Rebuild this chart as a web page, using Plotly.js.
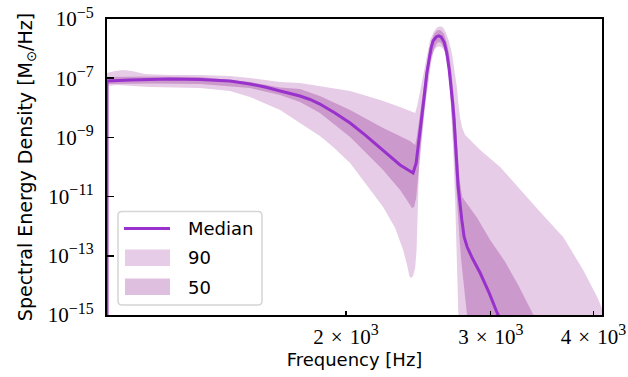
<!DOCTYPE html>
<html>
<head>
<meta charset="utf-8">
<script src="https://cdn.plot.ly/plotly-3.0.1.min.js"></script>
<style>
  html, body { margin: 0; padding: 0; background: #ffffff; }
  #chart { width: 628px; height: 377px; }
</style>
</head>
<body>
<div id="chart"></div>
<script>
// Spectral energy density posterior: median and 50% / 90% credible bands.
// Frequencies in Hz, densities in solar masses per Hz.

const freqMedian = [1024, 1024, 1092, 1221, 1329, 1445, 1528, 1594, 1663, 1710, 1758, 1808, 1859, 1939, 2023, 2109, 2219, 2275, 2327, 2380, 2413, 2434, 2447, 2461, 2473, 2489, 2508, 2524, 2538, 2552, 2574, 2592, 2610, 2632, 2652, 2670, 2685, 2696, 2707, 2722, 2738, 2766, 2784, 2808, 2848, 2912, 2987, 3054, 3124];
const psdMedian = [1e-18, 8.0e-8, 8.7e-8, 9.4e-8, 9.0e-8, 8.0e-8, 6.4e-8, 5.04e-8, 3.7e-8, 3.11e-8, 2.5e-8, 1.91e-8, 1.34e-8, 6.67e-9, 3.07e-9, 1.21e-9, 3.75e-10, 2.01e-10, 1.17e-10, 7.9e-11, 6.3e-11, 1.36e-10, 4.4e-10, 1.41e-9, 3.87e-9, 2.32e-8, 1.5e-7, 5.2e-7, 1.05e-6, 1.81e-6, 2.47e-6, 2.67e-6, 2.47e-6, 1.67e-6, 7.1e-7, 1.89e-7, 5.04e-8, 1.45e-8, 3.87e-9, 3.75e-10, 2.11e-11, 1.62e-12, 4.32e-13, 1.98e-13, 8.4e-14, 2.62e-14, 5.5e-15, 1.17e-15, 3.1e-16];

const freq90Upper = [1024, 1047, 1071, 1098, 1139, 1221, 1329, 1445, 1528, 1663, 1758, 1929, 2023, 2121, 2219, 2327, 2393, 2427, 2441, 2454, 2468, 2482, 2496, 2510, 2531, 2560, 2581, 2596, 2610, 2625, 2647, 2670, 2690, 2707, 2728, 2738, 2753, 2769, 2792, 2832, 2912, 3080, 3258, 3445, 3674, 3886, 4041, 4096, 4203];
const psd90Upper = [1.5e-7, 1.75e-7, 1.89e-7, 1.75e-7, 1.39e-7, 1.28e-7, 1.28e-7, 1.19e-7, 1.02e-7, 7.4e-8, 6.9e-8, 4.67e-8, 3.7e-8, 2.5e-8, 1.7e-8, 1.06e-8, 7.8e-9, 6.7e-9, 1.15e-8, 2.5e-8, 5.04e-8, 1.1e-7, 3.02e-7, 7.67e-7, 1.95e-6, 3.93e-6, 5.16e-6, 5.58e-6, 5.58e-6, 5.16e-6, 3.37e-6, 1.67e-6, 7.1e-7, 2.21e-7, 5.04e-8, 1.57e-8, 4.52e-9, 2.08e-9, 1.21e-9, 8.17e-10, 3.75e-10, 1.0e-10, 1.67e-11, 3.02e-12, 4.32e-13, 3.31e-14, 4.05e-15, 1.72e-15, 3.1e-16];

const freq90Lower = [1024, 1053, 1155, 1329, 1445, 1528, 1663, 1758, 1859, 1929, 2023, 2109, 2219, 2295, 2347, 2373, 2388, 2400, 2413, 2427, 2437, 2443, 2447, 2454, 2465, 2475, 2489, 2508, 2524, 2538, 2560, 2581, 2596, 2610, 2632, 2655, 2670, 2681, 2700, 2715, 2726, 2738, 2746, 2749];
const psd90Lower = [5.45e-8, 5.89e-8, 5.04e-8, 4.67e-8, 3.7e-8, 2.32e-8, 8.43e-9, 3.07e-9, 1.11e-9, 4.74e-10, 1.36e-10, 2.88e-11, 4.45e-12, 8.69e-13, 1.57e-13, 4.89e-14, 2.08e-14, 1.78e-14, 2.08e-14, 3.87e-14, 1.57e-13, 1.62e-12, 1.67e-11, 1.17e-10, 5.54e-10, 2.08e-9, 8.43e-9, 5.89e-8, 2.58e-7, 5.2e-7, 8.97e-7, 1.13e-6, 1.18e-6, 1.13e-6, 8.97e-7, 4.12e-7, 1.28e-7, 1.83e-8, 3.75e-10, 7.67e-12, 1.57e-13, 1.0e-15, 9.7e-17, 3.0e-17];

const freq50Upper = [1024, 1155, 1329, 1528, 1663, 1758, 1859, 2023, 2219, 2327, 2393, 2427, 2437, 2451, 2461, 2475, 2489, 2503, 2517, 2538, 2560, 2581, 2596, 2610, 2632, 2655, 2673, 2688, 2700, 2715, 2730, 2749, 2769, 2888, 2995, 3124, 3239, 3378, 3494];
const psd50Upper = [1.1e-7, 1.14e-7, 1.1e-7, 7.44e-8, 4.85e-8, 4.32e-8, 2.5e-8, 8.43e-9, 2.08e-9, 1.11e-9, 7.56e-10, 5.54e-10, 9.54e-10, 2.84e-9, 6.67e-9, 2.14e-8, 6.88e-8, 2.21e-7, 6.08e-7, 1.67e-6, 3.11e-6, 4.09e-6, 4.25e-6, 4.09e-6, 3.11e-6, 1.43e-6, 5.2e-7, 1.5e-7, 4.0e-8, 7.21e-9, 5.54e-10, 3.64e-11, 9.69e-12, 1.89e-12, 3.42e-13, 6.17e-14, 1.03e-14, 1.17e-15, 1.67e-16];

const freq50Lower = [1024, 1155, 1329, 1528, 1663, 1758, 1859, 2023, 2219, 2327, 2380, 2405, 2420, 2434, 2444, 2454, 2468, 2482, 2496, 2517, 2538, 2560, 2581, 2596, 2610, 2632, 2655, 2670, 2685, 2700, 2715, 2730, 2746, 2761, 2784, 2808, 2832];
const psd50Lower = [6.37e-8, 6.62e-8, 6.37e-8, 4.67e-8, 2.71e-8, 1.57e-8, 6.67e-9, 1.03e-9, 7.92e-11, 1.67e-11, 6.57e-12, 4.12e-12, 4.45e-12, 8.97e-12, 2.47e-11, 9.25e-11, 5.12e-10, 2.43e-9, 1.15e-8, 7.44e-8, 3.53e-7, 9.69e-7, 1.55e-6, 1.67e-6, 1.55e-6, 1.05e-6, 3.53e-7, 8.69e-8, 1.24e-8, 1.21e-9, 7.92e-11, 5.2e-12, 5.04e-13, 7.21e-14, 6.99e-15, 7.92e-16, 9.7e-17];

const xTickVals = [2000, 3000, 4000];
const xMantissas = ['2', '3', '4'];
const yTickVals = [1e-15, 1e-13, 1e-11, 1e-9, 1e-7, 1e-5];
const yExponents = ['\u221215', '\u221213', '\u221211', '\u22129', '\u22127', '\u22125'];

// superscripts a little larger than the default 70 %
const sup = s => '<sup><span style="font-size:16px">' + s + '</span></sup>';
const xTickText = xMantissas.map(m => m + '\u2004\u00d7\u200410' + sup('3'));
const yTickText = yExponents.map(e => '10' + sup(e));

const legendLabels = ['Median', '90', '50'];

const medianColor = '#9932CC';
const band90Color = 'rgba(128, 0, 128, 0.2)';
const band50Color = 'rgba(128, 0, 128, 0.25)';

// closed outline: upper edge left-to-right, lower edge back right-to-left
function bandOutline(fu, pu, fl, pl) {
  return {
    x: fu.concat(fl.slice().reverse()),
    y: pu.concat(pl.slice().reverse())
  };
}

const b90 = bandOutline(freq90Upper, psd90Upper, freq90Lower, psd90Lower);
const b50 = bandOutline(freq50Upper, psd50Upper, freq50Lower, psd50Lower);

const traces = [
  { x: b90.x, y: b90.y, type: 'scatter', mode: 'lines', fill: 'toself',
    fillcolor: band90Color, line: { width: 0 }, name: legendLabels[1],
    hoverinfo: 'skip', showlegend: false },
  { x: b50.x, y: b50.y, type: 'scatter', mode: 'lines', fill: 'toself',
    fillcolor: band50Color, line: { width: 0 }, name: legendLabels[2],
    hoverinfo: 'skip', showlegend: false },
  { x: freqMedian, y: psdMedian, type: 'scatter', mode: 'lines',
    line: { color: medianColor, width: 3 }, name: legendLabels[0],
    showlegend: false }
];

// plot area in pixels: left 107, right 602, top 19, bottom 315
const W = 495, H = 296;
const px = v => (v - 107) / W;
const py = v => (315 - v) / H;

function roundRect(x0, y0, x1, y1, r) {
  const rx = r / W, ry = r / H;
  const X0 = px(x0), X1 = px(x1), Y0 = py(y1), Y1 = py(y0);
  return 'M' + (X0 + rx) + ',' + Y0 + ' L' + (X1 - rx) + ',' + Y0 +
    ' Q' + X1 + ',' + Y0 + ' ' + X1 + ',' + (Y0 + ry) +
    ' L' + X1 + ',' + (Y1 - ry) + ' Q' + X1 + ',' + Y1 + ' ' + (X1 - rx) + ',' + Y1 +
    ' L' + (X0 + rx) + ',' + Y1 + ' Q' + X0 + ',' + Y1 + ' ' + X0 + ',' + (Y1 - ry) +
    ' L' + X0 + ',' + (Y0 + ry) + ' Q' + X0 + ',' + Y0 + ' ' + (X0 + rx) + ',' + Y0 + ' Z';
}

const legendFont = { family: 'DejaVu Sans', size: 18, color: '#000000' };

const shapes = [
  { type: 'path', xref: 'paper', yref: 'paper', path: roundRect(118, 211.5, 262, 305, 4),
    fillcolor: 'rgba(255,255,255,0.8)', line: { color: '#d5d5d5', width: 1.5 } },
  { type: 'line', xref: 'paper', yref: 'paper', x0: px(124), x1: px(170), y0: py(228.5), y1: py(228.5),
    line: { color: medianColor, width: 3 } },
  { type: 'rect', xref: 'paper', yref: 'paper', x0: px(125), x1: px(170), y0: py(266), y1: py(249.5),
    fillcolor: band90Color, line: { width: 0 } },
  { type: 'rect', xref: 'paper', yref: 'paper', x0: px(125), x1: px(170), y0: py(295), y1: py(278.5),
    fillcolor: band50Color, line: { width: 0 } }
];

const annotations = [
  { text: legendLabels[0], x: px(186), y: py(228.5), xref: 'paper', yref: 'paper',
    xanchor: 'left', yanchor: 'middle', showarrow: false, font: legendFont },
  { text: legendLabels[1], x: px(186), y: py(257.5), xref: 'paper', yref: 'paper',
    xanchor: 'left', yanchor: 'middle', showarrow: false, font: legendFont },
  { text: legendLabels[2], x: px(186), y: py(287), xref: 'paper', yref: 'paper',
    xanchor: 'left', yanchor: 'middle', showarrow: false, font: legendFont }
];

const tickFont = { family: 'Liberation Serif', size: 21, color: '#000000' };

const layout = {
  width: 628, height: 377,
  margin: { l: 107, r: 26, t: 19, b: 62, pad: 0 },
  paper_bgcolor: '#ffffff', plot_bgcolor: '#ffffff',
  showlegend: false,
  xaxis: {
    type: 'log', range: [Math.log10(1024), Math.log10(4096)],
    tickmode: 'array', tickvals: xTickVals, ticktext: xTickText,
    ticks: 'inside', ticklen: 4, tickwidth: 1.2, tickcolor: '#000000',
    showline: true, linecolor: '#000000', linewidth: 2, mirror: true,
    showgrid: false, zeroline: false, tickfont: tickFont, ticklabelstandoff: 2,
    title: { text: 'Frequency [Hz]', font: { family: 'DejaVu Sans', size: 18, color: '#000000' }, standoff: 2 },
    automargin: false
  },
  yaxis: {
    type: 'log', range: [-15, -5],
    tickmode: 'array', tickvals: yTickVals, ticktext: yTickText,
    ticks: 'inside', ticklen: 7, tickwidth: 1.6, tickcolor: '#000000',
    showline: true, linecolor: '#000000', linewidth: 2, mirror: true,
    showgrid: false, zeroline: false, tickfont: tickFont, ticklabelstandoff: 7,
    title: { text: 'Spectral Energy Density [M<sub>\u2299</sub>/Hz]', font: { family: 'DejaVu Sans', size: 19, color: '#000000' }, standoff: 10 },
    automargin: false
  },
  shapes: shapes,
  annotations: annotations
};

Plotly.newPlot('chart', traces, layout, { displayModeBar: false, staticPlot: true });
</script>
</body>
</html>
